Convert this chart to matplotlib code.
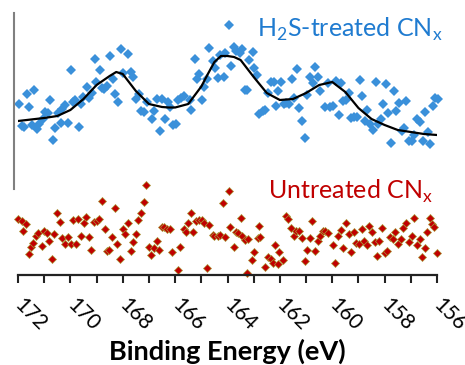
import matplotlib
matplotlib.use("Agg")
import matplotlib.pyplot as plt
from matplotlib.ticker import MultipleLocator

plt.rcParams['font.family'] = ['Lato', 'DejaVu Sans']

# S 2p region, H2S-treated sample (raw points)
treated_be = [171.96, 171.85, 171.77, 171.66, 171.58, 171.46, 171.39, 171.27, 171.20, 171.04,
              170.97, 170.85, 170.78, 170.66, 170.58, 170.47, 170.35, 170.32, 170.20, 170.09,
              169.97, 169.89, 169.82, 169.67, 169.59, 169.51, 169.36, 169.28, 169.17, 169.05,
              169.01, 168.86, 168.78, 168.71, 168.59, 168.48, 168.36, 168.29, 168.17, 168.06,
              167.98, 167.79, 167.67, 167.60, 167.48, 167.37, 167.29, 167.18, 167.06, 166.87,
              166.79, 166.68, 166.56, 166.49, 166.37, 166.26, 166.18, 166.07, 165.95, 165.88,
              165.76, 165.65, 165.45, 165.38, 165.26, 165.15, 165.07, 164.96, 164.88, 164.77,
              164.69, 164.57, 164.46, 164.38, 164.27, 164.15, 164.08, 163.96, 163.85, 163.77,
              163.66, 163.54, 163.43, 163.35, 163.27, 163.16, 163.04, 162.97, 162.89, 162.78,
              162.66, 162.55, 162.47, 162.35, 162.24, 162.16, 162.09, 161.97, 161.86, 161.78,
              161.67, 161.55, 161.47, 161.36, 161.28, 161.17, 161.05, 160.98, 160.86, 160.75,
              160.67, 160.56, 160.48, 160.29, 160.17, 160.10, 159.98, 159.87, 159.75, 159.67,
              159.60, 159.48, 159.37, 159.29, 159.18, 159.06, 158.95, 158.87, 158.76, 158.68,
              158.56, 158.45, 158.33, 158.26, 158.14, 158.07, 157.95, 157.88, 157.76, 157.65,
              157.57, 157.45, 157.34, 157.26, 157.19, 157.07, 156.96, 156.88, 156.77, 156.65,
              156.54, 156.46, 156.34, 156.27, 156.15, 156.08, 155.96]
treated_int = [46, 24, 23, 56, 43, 25, 60, 21, 26, 31,
               38, 37, 50, 10, 22, 37, 27, 41, 45, 27,
               80, 48, 50, 23, 46, 53, 63, 52, 57, 91,
               68, 80, 62, 61, 64, 94, 71, 56, 48, 101,
               77, 96, 78, 73, 51, 56, 39, 38, 48, 31,
               39, 51, 19, 51, 31, 48, 43, 25, 26, 50,
               52, 54, 50, 40, 91, 71, 76, 50, 63, 71,
               102, 89, 82, 72, 95, 73, 97, 125, 84, 103,
               99, 97, 101, 60, 60, 90, 98, 82, 75, 36,
               39, 40, 57, 68, 68, 44, 59, 68, 46, 47,
               46, 71, 52, 81, 42, 29, 12, 55, 73, 67,
               83, 73, 59, 43, 67, 43, 44, 69, 35, 67,
               49, 50, 57, 32, 33, 33, 70, 54, 29, 40,
               26, 20, 68, 26, 31, 46, 66, 37, 7, 59,
               39, 47, 19, 22, 49, 9, 9, 15, 31, 28,
               9, 38, 18, 6, 44, 52, 51]

# peak-fit envelope
fit_be = [172.0, 171.5, 171.0, 170.5, 170.0, 169.5, 169.0, 168.5, 168.25, 168.0,
          167.5, 167.0, 166.5, 166.25, 166.0, 165.5, 165.0, 164.75, 164.5, 164.25,
          164.0, 163.75, 163.5, 163.0, 162.5, 162.0, 161.5, 161.0, 160.5, 160.0,
          159.5, 159.0, 158.5, 158.0, 157.5, 157.0, 156.5, 156.0]
fit_int = [29, 30.5, 32, 34, 40, 51, 65, 74, 78, 76,
           59, 46, 43, 42.5, 42.5, 46, 63.5, 76, 88, 94,
           94, 93, 90, 73, 57, 50, 51, 57, 65, 68,
           58, 42, 31, 25, 20, 18, 16, 15]

# untreated sample
untreated_be = [172.00, 171.85, 171.81, 171.69, 171.58, 171.50, 171.43, 171.31, 171.23, 171.08,
                171.00, 170.89, 170.81, 170.70, 170.62, 170.51, 170.39, 170.32, 170.20, 170.09,
                169.97, 169.89, 169.78, 169.70, 169.59, 169.47, 169.40, 169.28, 169.21, 169.09,
                168.98, 168.90, 168.78, 168.67, 168.59, 168.52, 168.40, 168.29, 168.21, 168.10,
                167.98, 167.90, 167.79, 167.67, 167.60, 167.48, 167.41, 167.29, 167.18, 167.10,
                166.99, 166.91, 166.79, 166.68, 166.60, 166.49, 166.41, 166.30, 166.18, 166.11,
                165.88, 165.80, 165.68, 165.57, 165.49, 165.38, 165.30, 165.19, 165.07, 164.96,
                164.88, 164.77, 164.69, 164.57, 164.50, 164.38, 164.27, 164.19, 164.08, 163.96,
                163.89, 163.77, 163.69, 163.58, 163.50, 163.46, 163.35, 163.27, 163.20, 163.08,
                162.97, 162.85, 162.78, 162.74, 162.58, 162.47, 162.35, 162.28, 162.20, 162.09,
                162.05, 161.89, 161.78, 161.70, 161.59, 161.47, 161.40, 161.28, 161.17, 161.05,
                160.98, 160.86, 160.78, 160.67, 160.56, 160.48, 160.36, 160.29, 160.17, 159.98,
                159.90, 159.79, 159.67, 159.60, 159.48, 159.37, 159.29, 159.18, 159.10, 158.99,
                158.87, 158.79, 158.68, 158.60, 158.49, 158.37, 158.30, 158.22, 158.11, 157.99,
                157.91, 157.80, 157.68, 157.61, 157.49, 157.38, 157.30, 157.19, 157.07, 156.96,
                156.88, 156.77, 156.65, 156.57, 156.46, 156.38, 156.27, 156.19, 156.11, 156.00]
untreated_int = [56, 54, 44, 51, 21, 28, 32, 39, 42, 29,
                 44, 42, 34, 16, 41, 62, 53, 37, 31, 38,
                 31, 55, 31, 56, 39, 52, 58, 38, 25, 53,
                 54, 56, 74, 46, 24, 25, 38, 67, 31, 16,
                 46, 41, 52, 24, 33, 41, 55, 62, 73, 90,
                 28, 20, 27, 34, 25, 48, 48, 46, 46, 23,
                 5, 28, 46, 43, 52, 62, 43, 54, 55, 55,
                 52, 7, 50, 40, 39, 39, 40, 72, 38, 84,
                 48, 28, 43, 42, 57, 39, 35, 2, 36, 15,
                 23, 37, 49, 38, 8, 18, 16, 12, 30, 11,
                 23, 15, 59, 56, 47, 39, 44, 44, 37, 14,
                 25, 37, 54, 24, 34, 39, 44, 44, 42, 30,
                 12, 39, 45, 27, 52, 41, 23, 43, 32, 31,
                 46, 34, 30, 49, 43, 33, 19, 34, 47, 22,
                 24, 38, 36, 43, 31, 36, 47, 52, 33, 39,
                 57, 30, 36, 18, 27, 43, 57, 51, 48, 22]

offset = 125  # vertical shift of the treated spectrum

blue = '#3a90da'
red = '#c00000'

fig = plt.figure(figsize=(4.65, 3.65), dpi=100)
ax = fig.add_axes([18 / 465, 90 / 365, 419 / 465, 262 / 365])

ax.plot(treated_be, [v + offset for v in treated_int], 'D', color=blue,
        markersize=4.8, markeredgewidth=0, clip_on=False)
ax.plot(fit_be, [v + offset for v in fit_int], '-', color='black', lw=1.6)
ax.plot(untreated_be, untreated_int, 'D', color=red, markersize=4.3,
        markeredgecolor='#a89a3a', markeredgewidth=0.5, clip_on=False)

ax.set_xlim(172, 156)
ax.set_ylim(0, 262)

for s in ['top', 'right']:
    ax.spines[s].set_visible(False)
ax.spines['left'].set_position(('outward', 3))
ax.spines['left'].set_bounds(86, 262)
ax.spines['left'].set_color('#808080')
ax.spines['left'].set_linewidth(1.5)
ax.spines['bottom'].set_color('#222222')
ax.spines['bottom'].set_linewidth(1.6)

ax.set_yticks([])
ax.xaxis.set_major_locator(MultipleLocator(2))
ax.xaxis.set_minor_locator(MultipleLocator(1))
ax.tick_params(axis='x', which='both', direction='out', length=6, width=1.5,
               color='#222222', labelsize=15, pad=13)
for lab in ax.get_xticklabels():
    lab.set_rotation(-45)
    lab.set_ha('left')
    lab.set_va('center')
    lab.set_rotation_mode('anchor')

ax.set_xlabel('Binding Energy (eV)', fontsize=19.5, fontweight='bold', labelpad=3)

ax.text(1.015, 0.99, r'H$_\mathregular{2}$S-treated CN$_\mathregular{x}$', transform=ax.transAxes,
        ha='right', va='top', fontsize=18, color='#1f7bd0')
ax.text(0.99, 0.37, r'Untreated CN$_\mathregular{x}$', transform=ax.transAxes,
        ha='right', va='top', fontsize=18, color=red)

fig.savefig('out.png', dpi=100)
